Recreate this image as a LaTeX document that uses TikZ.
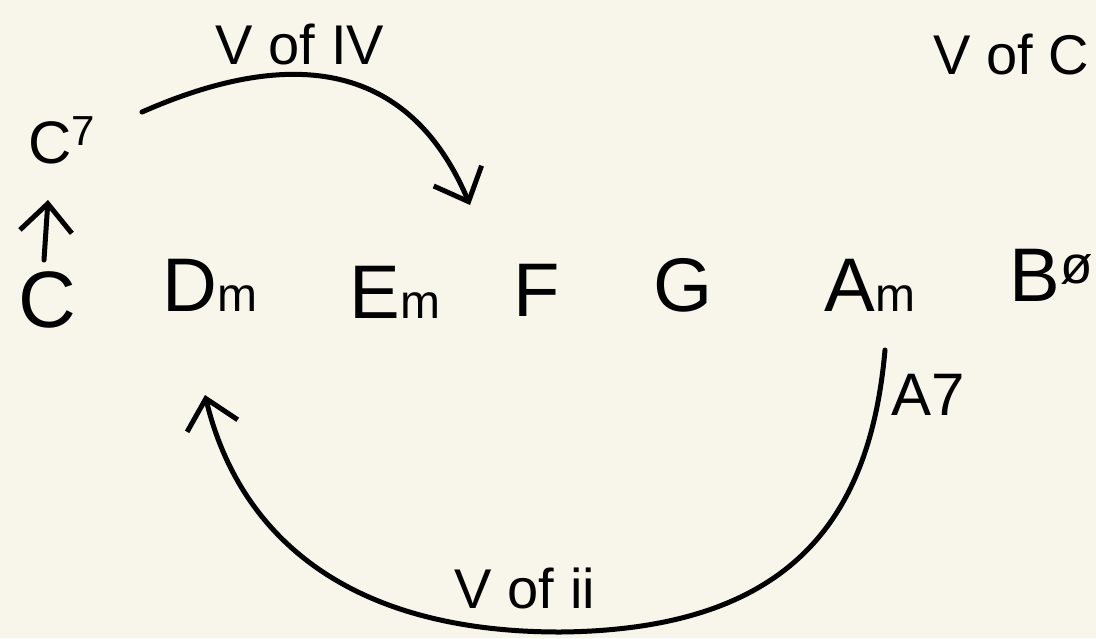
\documentclass[tikz,border=0pt]{standalone}
\usepackage{fontspec}
\setmainfont{Liberation Sans}
\usetikzlibrary{arrows.meta}
\definecolor{paper}{RGB}{248,246,234}
\begin{document}
\begin{tikzpicture}[x=0.5pt,y=-0.5pt,
  chord/.style={inner sep=0pt,font=\fontsize{38}{40}\selectfont},
  lbl/.style={inner sep=0pt,font=\fontsize{28}{30}\selectfont},
  pen/.style={line width=2.5pt,line cap=round,line join=round},
  tip/.style={-{Straight Barb[length=14pt,width=26pt,line width=2.5pt]}}]
\fill[paper] (0,0) rectangle (1096,638);
\useasboundingbox (0,0) rectangle (1096,638);
% chords
\node[chord,font=\fontsize{40}{42}\selectfont] (C) at (47,300) {C};
\node[chord] (Dm) at (210,285) {D{\fontsize{24}{24}\selectfont m}};
\node[chord] (Em) at (395,292) {E{\fontsize{24}{24}\selectfont m}};
\node[chord] (F) at (537,290) {F};
\node[chord] (G) at (683,285) {G};
\node[chord] (Am) at (870,285) {A{\fontsize{24}{24}\selectfont m}};
\node[chord,anchor=east] (Bd) at (1094,275) {B\textsuperscript{ø}};
\node[chord,font=\fontsize{30}{32}\selectfont] (C7) at (62,140) {C\textsuperscript{7}};
\node[chord,font=\fontsize{30}{32}\selectfont] (A7) at (928,395) {A7};
% labels
\node[lbl] (l1) at (300,45) {V of IV};
\node[lbl] (l2) at (525,588) {V of ii};
\node[lbl,anchor=west] (l3) at (933,55) {V of C};
% connectors
\coordinate (cup) at (48,200);
\coordinate (cstart) at (44,260);
\draw[pen,tip] (cstart) -- (cup);
\coordinate (s1) at (142,112);
\coordinate (e1) at (470,205);
\draw[pen,tip] (s1) .. controls (260,60) and (400,40) .. (e1);
\coordinate (s2) at (885,350);
\coordinate (m2) at (560,632);
\coordinate (e2) at (205,395);
\draw[pen,tip] (s2) .. controls (870,520) and (790,630) .. (m2)
  .. controls (330,632) and (235,520) .. (e2);
\end{tikzpicture}
\end{document}
